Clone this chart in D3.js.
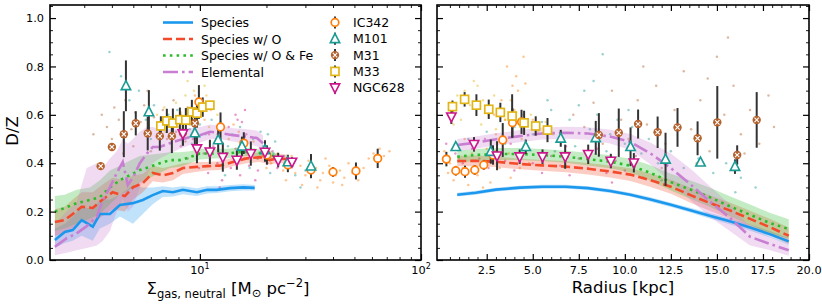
<!DOCTYPE html>
<html><head><meta charset="utf-8">
<script src="https://cdn.jsdelivr.net/npm/d3@7"></script>
<style>body{margin:0;background:#fff}svg{display:block}text{font-family:"DejaVu Sans",sans-serif;fill:#000}</style>
</head><body><svg id="c" width="822" height="308"></svg>
<script>
// ---------------- DATA ----------------
// Left panel: model lines vs Sigma_gas,neutral
const spX  = [2.21,2.45,2.66,2.92,3.28,3.53,3.92,4.35,4.98,5.52,6.12,6.80,7.55,8.38,9.69,10.8,11.9,13.7,15.7,17.7];
const spY  = [0.083,0.116,0.124,0.165,0.138,0.19,0.19,0.227,0.235,0.248,0.268,0.285,0.28,0.29,0.28,0.29,0.29,0.297,0.30,0.298];
const spLo = [0.05,0.07,0.08,0.10,0.08,0.13,0.15,0.18,0.15,0.19,0.23,0.26,0.262,0.272,0.265,0.275,0.277,0.284,0.287,0.287];
const spHi = [0.13,0.15,0.18,0.22,0.21,0.25,0.25,0.27,0.31,0.30,0.30,0.305,0.30,0.305,0.297,0.305,0.305,0.31,0.313,0.31];

const soX  = [2.21,2.45,2.66,2.92,3.28,3.61,4.03,4.58,4.98,5.52,6.12,6.80,7.55,8.38,9.69,10.8,12.3,14.1,16.3,18.7,20.7,22.3,24.8];
const soY  = [0.157,0.165,0.19,0.22,0.215,0.248,0.28,0.264,0.30,0.318,0.36,0.35,0.36,0.38,0.385,0.388,0.39,0.405,0.42,0.425,0.413,0.42,0.417];
const soLo = [0.10,0.11,0.13,0.16,0.15,0.18,0.21,0.20,0.25,0.28,0.325,0.32,0.33,0.355,0.365,0.37,0.372,0.387,0.40,0.405,0.395,0.40,0.40];
const soHi = [0.21,0.22,0.25,0.28,0.28,0.31,0.34,0.33,0.35,0.355,0.39,0.38,0.39,0.40,0.405,0.405,0.408,0.423,0.438,0.445,0.43,0.44,0.435];

const sfX  = [2.21,2.45,2.77,3.18,3.53,3.92,4.35,4.82,5.35,5.94,6.59,7.32,8.12,9.01,10.0,11.45,13.25,15.17,17.37,20.1,22.3];
const sfY  = [0.20,0.215,0.235,0.248,0.26,0.30,0.33,0.35,0.372,0.385,0.40,0.413,0.413,0.425,0.44,0.44,0.44,0.446,0.446,0.44,0.425];
const sfLo = [0.12,0.13,0.15,0.17,0.19,0.23,0.27,0.29,0.32,0.34,0.36,0.38,0.385,0.40,0.415,0.42,0.42,0.43,0.43,0.425,0.41];
const sfHi = [0.265,0.27,0.29,0.30,0.33,0.37,0.39,0.41,0.43,0.435,0.44,0.445,0.445,0.45,0.46,0.46,0.46,0.465,0.462,0.455,0.44];

const elX  = [2.21,2.5,2.77,3.08,3.42,3.64,3.92,4.21,4.48,4.72,4.98,5.35,5.76,6.12,6.59,7.32,8.12,9.01,10.0,11.1,12.3,14.1,16.3,18.1,19.3];
const elY  = [0.055,0.09,0.11,0.14,0.18,0.248,0.30,0.36,0.405,0.31,0.34,0.40,0.44,0.467,0.467,0.483,0.496,0.508,0.516,0.53,0.525,0.516,0.51,0.504,0.483];
const elLo = [0.02,0.03,0.04,0.05,0.06,0.08,0.12,0.20,0.25,0.20,0.22,0.30,0.35,0.40,0.42,0.44,0.46,0.475,0.485,0.50,0.50,0.49,0.48,0.47,0.45];
const elHi = [0.15,0.20,0.24,0.38,0.40,0.38,0.42,0.45,0.50,0.48,0.50,0.53,0.55,0.55,0.54,0.54,0.545,0.545,0.55,0.56,0.555,0.545,0.54,0.535,0.515];

// Right panel: model lines vs radius
const rBins = [0.9,1.9,3.0,4.3,5.5,6.8,8.0,9.2,10.3,11.4,12.5,13.6,14.6,15.7,16.8,17.9,18.9];
const rSp   = [0.27,0.278,0.291,0.299,0.303,0.303,0.297,0.285,0.27,0.25,0.228,0.205,0.183,0.16,0.134,0.106,0.077];
const rSpLo = [0.262,0.270,0.283,0.291,0.295,0.295,0.289,0.277,0.262,0.241,0.219,0.195,0.172,0.148,0.121,0.093,0.063];
const rSpHi = [0.278,0.286,0.299,0.307,0.311,0.311,0.305,0.293,0.278,0.259,0.237,0.215,0.194,0.172,0.147,0.119,0.091];
const rSo   = [0.409,0.41,0.406,0.397,0.391,0.386,0.377,0.366,0.353,0.33,0.303,0.267,0.236,0.205,0.17,0.135,0.10];
const rSoLo = [0.387,0.388,0.384,0.375,0.369,0.363,0.353,0.341,0.327,0.302,0.274,0.236,0.204,0.172,0.136,0.101,0.066];
const rSoHi = [0.431,0.432,0.428,0.419,0.413,0.409,0.401,0.391,0.379,0.358,0.332,0.298,0.268,0.238,0.204,0.169,0.134];
const rSf   = [0.427,0.434,0.438,0.438,0.434,0.427,0.417,0.406,0.39,0.36,0.322,0.29,0.26,0.222,0.187,0.152,0.128];
const rSfLo = [0.402,0.409,0.413,0.413,0.409,0.402,0.391,0.379,0.362,0.328,0.287,0.252,0.22,0.181,0.145,0.11,0.088];
const rSfHi = [0.452,0.459,0.463,0.463,0.459,0.452,0.443,0.433,0.418,0.392,0.357,0.328,0.30,0.263,0.229,0.194,0.168];
const rEl   = [0.475,0.485,0.499,0.512,0.523,0.526,0.523,0.51,0.488,0.44,0.38,0.31,0.243,0.175,0.096,0.066,0.04];
const rElLo = [0.45,0.46,0.474,0.487,0.498,0.501,0.497,0.482,0.455,0.395,0.32,0.245,0.18,0.12,0.06,0.04,0.018];
const rElHi = [0.50,0.51,0.524,0.537,0.548,0.551,0.549,0.538,0.521,0.485,0.44,0.375,0.306,0.23,0.135,0.095,0.065];

// Galaxy binned points: left panel (Sigma) [x, y, err]
const ic342L = [[9.9,0.653,0.07],[12.4,0.55,0.06],[15.8,0.483,0.045],[20.1,0.434,0.04],[25.0,0.393,0.03],[31.8,0.372,0.03],[40.0,0.364,0.02],[50.8,0.368,0.035],[63.7,0.42,0.04]];
const m101L  = [[4.63,0.72,0.105],[5.88,0.612,0.09],[9.49,0.525,0.05],[12.1,0.496,0.05],[15.5,0.47,0.04],[19.7,0.455,0.04],[25.0,0.405,0.03],[31.8,0.388,0.05]];
const m31L   = [[3.56,0.388,0],[4.0,0.467,0.01],[4.53,0.52,0.095],[5.13,0.565,0.05],[5.81,0.523,0.07],[6.59,0.512,0.06],[7.47,0.512,0.07],[8.38,0.525,0.05],[9.49,0.565,0.06]];
const m33L   = [[6.66,0.554,0.04],[7.09,0.575,0.05],[7.55,0.566,0.06],[8.12,0.58,0.05],[8.64,0.578,0.05],[9.2,0.612,0.05],[9.7,0.607,0.06],[10.3,0.632,0.04],[11.1,0.64,0]];
const n628L  = [[8.38,0.522,0.05],[9.7,0.46,0.06],[11.1,0.447,0.05],[12.7,0.425,0.06],[14.7,0.413,0.04],[17.0,0.44,0.05],[19.7,0.446,0.04],[22.6,0.413,0.03],[26.1,0.405,0.02]];
// right panel (radius) [x, y, err]
const ic342R = [[0.31,0.417,0.03],[0.82,0.369,0.02],[1.32,0.365,0.025],[1.85,0.372,0.02],[2.34,0.393,0.02],[2.84,0.434,0.04],[3.37,0.496,0.07],[3.90,0.567,0.06],[4.39,0.571,0.05]];
const m101R  = [[0.82,0.468,0.01],[2.72,0.448,0.05],[4.62,0.468,0.03],[6.52,0.503,0.035],[8.42,0.505,0.07],[10.31,0.468,0.08],[12.21,0.416,0.11],[14.11,0.404,0.015],[15.98,0.386,0.03]];
const m31R   = [[8.59,0.517,0.09],[9.67,0.526,0.1],[10.72,0.562,0.06],[11.78,0.528,0.065],[12.86,0.548,0.08],[13.95,0.503,0.07],[15.02,0.569,0.15],[16.1,0.434,0.04],[17.16,0.579,0.115]];
const m33R   = [[0.64,0.634,0.025],[1.3,0.664,0.03],[1.94,0.64,0.045],[2.61,0.623,0.04],[3.24,0.61,0.04],[3.88,0.595,0.09],[4.53,0.567,0.05],[5.16,0.554,0.04],[5.8,0.537,0.05]];
const n628R  = [[0.58,0.592,0.03],[1.81,0.478,0.03],[3.06,0.431,0.06],[4.29,0.427,0.03],[5.53,0.427,0.03],[6.76,0.427,0.05],[8.01,0.437,0.04],[9.24,0.409,0.03],[10.49,0.402,0.04]];

// Individual pixels (faint scatter): left panel
const ic342PixL = [[9.5,0.68],[10.5,0.58],[11.2,0.62],[12.0,0.52],[13.5,0.50],[14.2,0.56],[15.0,0.53],[16.0,0.46],[17.5,0.49],[18.3,0.42],[19.5,0.45],[20.0,0.38],[21.0,0.40],[22.5,0.44],[23.8,0.37],[25.5,0.41],[26.0,0.43],[27.0,0.36],[28.5,0.39],[29.0,0.31],[30.0,0.35],[31.0,0.41],[33.5,0.38],[34.0,0.30],[35.0,0.33],[36.0,0.36],[38.5,0.39],[40.0,0.32],[41.0,0.35],[43.0,0.37],[45.0,0.34],[47.0,0.40],[49.0,0.36],[52.0,0.33],[55.0,0.38],[58.0,0.42],[61.0,0.44],[65.0,0.46],[68.0,0.43],[72.0,0.45],[37.0,0.42],[44.0,0.31],[24.5,0.33]];
const m101PixL = [[3.9,0.86],[4.4,0.76],[4.8,0.66],[5.3,0.70],[5.7,0.58],[6.2,0.64],[6.8,0.55],[7.2,0.60],[7.9,0.62],[8.4,0.57],[9.0,0.54],[9.4,0.60],[10.0,0.56],[10.6,0.52],[11.3,0.58],[12.0,0.50],[12.7,0.54],[13.4,0.47],[14.0,0.52],[14.8,0.44],[15.6,0.49],[16.5,0.45],[17.4,0.50],[18.2,0.42],[19.3,0.47],[20.3,0.52],[21.5,0.44],[22.7,0.40],[24.0,0.43],[25.5,0.38],[27.0,0.35],[28.5,0.30],[30.0,0.37],[20.8,0.36],[16.8,0.38],[13.0,0.35],[11.0,0.43],[9.2,0.48],[7.5,0.51],[6.0,0.50],[18.8,0.53],[21.9,0.49],[15.2,0.55],[12.4,0.57]];
const m31PixL = [[3.3,0.52],[3.6,0.60],[3.8,0.55],[4.0,0.50],[4.1,0.63],[4.3,0.58],[4.5,0.44],[4.6,0.66],[4.9,0.54],[5.0,0.47],[5.1,0.61],[5.4,0.57],[5.6,0.64],[5.8,0.70],[5.9,0.53],[6.0,0.45],[6.2,0.59],[6.5,0.55],[6.8,0.62],[7.1,0.50],[7.4,0.57],[7.6,0.66],[7.8,0.53],[8.2,0.60],[8.6,0.49],[8.8,0.63],[9.0,0.56],[9.5,0.52]];
const m33PixL = [[6.4,0.60],[6.5,0.51],[6.9,0.63],[7.0,0.53],[7.3,0.58],[7.8,0.65],[8.0,0.55],[8.2,0.61],[8.6,0.68],[8.8,0.74],[9.0,0.63],[9.4,0.70],[9.6,0.57],[9.8,0.66],[10.2,0.61],[10.5,0.72],[10.7,0.68],[11.0,0.55],[11.3,0.64],[12.0,0.60]];
const n628PixL = [[8.2,0.47],[8.8,0.42],[9.3,0.50],[9.9,0.38],[10.4,0.44],[10.9,0.36],[11.0,0.52],[11.5,0.47],[12.0,0.40],[12.3,0.30],[12.6,0.33],[13.2,0.44],[13.5,0.55],[13.8,0.38],[14.5,0.46],[14.5,0.60],[14.8,0.58],[15.2,0.35],[15.5,0.57],[15.9,0.42],[16.0,0.62],[16.2,0.52],[16.7,0.39],[17.5,0.45],[17.8,0.33],[18.3,0.37],[19.2,0.43],[20.2,0.40],[21.3,0.45],[22.4,0.38],[23.6,0.42],[25.0,0.39],[26.5,0.41]];
// right panel
const ic342PixR = [[0.2,0.45],[0.4,0.36],[0.5,0.40],[0.7,0.33],[1.0,0.42],[1.2,0.38],[1.3,0.50],[1.5,0.31],[1.7,0.44],[2.0,0.35],[2.2,0.40],[2.3,0.30],[2.5,0.46],[2.7,0.32],[2.9,0.60],[3.0,0.52],[3.2,0.38],[3.3,0.66],[3.5,0.58],[3.6,0.80],[3.7,0.44],[3.8,0.34],[3.9,0.72],[4.0,0.62],[4.1,0.76],[4.2,0.70],[4.3,0.38],[4.4,0.50],[4.5,0.84],[4.6,0.73],[4.8,0.40],[5.0,0.58]];
const m101PixR = [[1.5,0.50],[2.5,0.53],[3.5,0.48],[4.0,0.55],[4.5,0.60],[5.0,0.52],[5.5,0.57],[5.8,0.66],[6.0,0.62],[6.2,0.45],[6.5,0.50],[7.0,0.58],[7.3,0.47],[7.5,0.64],[7.8,0.70],[8.1,0.54],[8.3,0.74],[8.5,0.60],[8.8,0.85],[9.0,0.45],[9.2,0.52],[9.6,0.58],[10.0,0.48],[10.2,0.62],[10.4,0.55],[10.9,0.44],[11.3,0.50],[11.8,0.40],[12.0,0.33],[12.5,0.45],[13.2,0.38],[14.0,0.42],[14.8,0.36],[15.5,0.40],[16.0,0.28],[16.3,0.34],[17.1,0.30]];
const m31PixR = [[7.2,0.60],[7.8,0.55],[8.3,0.65],[8.8,0.48],[9.0,0.42],[9.3,0.70],[9.8,0.58],[10.2,0.50],[10.7,0.66],[11.0,0.80],[11.2,0.56],[11.7,0.72],[12.0,0.38],[12.2,0.48],[12.7,0.62],[13.2,0.78],[13.6,0.54],[13.9,0.40],[14.1,0.66],[14.5,0.75],[14.6,0.45],[15.0,0.84],[15.4,0.60],[15.6,0.92],[15.9,0.72],[16.3,0.52],[16.5,0.44],[16.8,0.62],[17.3,0.48],[17.8,0.68],[18.1,0.55]];
const m33PixR = [[0.5,0.62],[0.7,0.56],[0.9,0.68],[1.1,0.58],[1.3,0.70],[1.6,0.64],[1.8,0.74],[2.0,0.72],[2.2,0.56],[2.3,0.66],[2.6,0.60],[2.9,0.68],[3.0,0.54],[3.2,0.63],[3.5,0.58],[3.8,0.66],[4.1,0.61],[4.5,0.56],[4.9,0.60],[5.3,0.53],[5.7,0.57],[6.1,0.52]];
const n628PixR = [[0.3,0.48],[0.8,0.44],[1.2,0.40],[1.7,0.46],[2.1,0.42],[2.4,0.50],[2.6,0.38],[3.0,0.45],[3.5,0.41],[3.8,0.48],[4.0,0.37],[4.5,0.44],[5.0,0.40],[5.5,0.36],[6.0,0.43],[6.5,0.39],[6.8,0.47],[7.0,0.35],[7.5,0.42],[8.0,0.38],[8.5,0.46],[9.0,0.36],[9.3,0.32],[9.5,0.41],[10.0,0.37],[10.6,0.43],[11.0,0.34]];

// Tick labels
const yTickVals = [0.0,0.2,0.4,0.6,0.8,1.0];
const xTickValsL = [10,100];
const xTickLabelsL = ["1","2"];   // exponents of 10
const xTickValsR = [2.5,5.0,7.5,10.0,12.5,15.0,17.5,20.0];
const lineNames = ["Species","Species w/ O","Species w/ O & Fe","Elemental"];
const galNames = ["IC342","M101","M31","M33","NGC628"];

// ---------------- STYLE ----------------
const lineCol = ["#1b98ee","#f44a2c","#2bbb2b","#c87fd2"];
const lineDash = [null,"9,4","2.6,4.2","15,4,2.6,4"];
const galCol = {IC342:"#ff7f0e",M101:"#1a9b94",M31:"#b4622e",M33:"#e2b517",NGC628:"#cb168c"};
const galShape = {IC342:"circle",M101:"tri_up",M31:"xcirc",M33:"square",NGC628:"tri_down"};

const svg = d3.select("#c");
const y = d3.scaleLinear().domain([0,1.054]).range([260,5]);
const xL = d3.scaleLog().domain([2.1,100]).range([50,421]);
const xR = d3.scaleLinear().domain([-0.2,20]).range([437,809]);

const defs = svg.append("defs");
function clip(id,x0,x1){defs.append("clipPath").attr("id",id).append("rect").attr("x",x0).attr("y",5).attr("width",x1-x0).attr("height",255);}
clip("cl",50,421); clip("cr",437,809);

function zip(X,Y){return X.map((v,i)=>[v,Y[i]]);}
function zip3(X,L,H){return X.map((v,i)=>[v,L[i],H[i]]);}

function marker(g,type,color,cx,cy){
  const m = g.append("g").attr("transform",`translate(${cx},${cy})`);
  if(type==="circle") m.append("circle").attr("r",3.8).attr("fill","white").attr("stroke",color).attr("stroke-width",1.7);
  else if(type==="tri_up") m.append("path").attr("d","M0,-5.2L4.7,3.8L-4.7,3.8Z").attr("fill","white").attr("stroke",color).attr("stroke-width",1.6);
  else if(type==="tri_down") m.append("path").attr("d","M0,5.2L4.7,-3.8L-4.7,-3.8Z").attr("fill","white").attr("stroke",color).attr("stroke-width",1.6);
  else if(type==="square") m.append("rect").attr("x",-4).attr("y",-4).attr("width",8).attr("height",8).attr("fill","white").attr("stroke",color).attr("stroke-width",1.7);
  else if(type==="xcirc"){
    m.append("circle").attr("r",4.2).attr("fill",color);
    m.append("path").attr("d","M-2.2,-2.2L2.2,2.2M-2.2,2.2L2.2,-2.2").attr("stroke","white").attr("stroke-width",1.1);
  }
}

function panel(x, clipId, bandSets, lineSets, pixSets, ptSets){
  const g = svg.append("g").attr("clip-path",`url(#${clipId})`);
  pixSets.forEach(([name,pts])=>{
    g.append("g").selectAll("circle").data(pts).join("circle")
     .attr("cx",d=>x(d[0])).attr("cy",d=>y(d[1])).attr("r",1.25)
     .attr("fill",galCol[name]).attr("opacity",0.45);
  });
  bandSets.forEach((b,i)=>{
    g.append("path").datum(b).attr("fill",lineCol[i]).attr("opacity",0.28)
     .attr("d",d3.area().x(d=>x(d[0])).y0(d=>y(d[1])).y1(d=>y(d[2])));
  });
  lineSets.forEach((l,i)=>{
    g.append("path").datum(l).attr("fill","none").attr("stroke",lineCol[i]).attr("stroke-width",2.6)
     .attr("stroke-dasharray",lineDash[i]).attr("d",d3.line().x(d=>x(d[0])).y(d=>y(d[1])));
  });
  ptSets.forEach(([name,pts])=>{
    g.append("g").selectAll("line").data(pts.filter(d=>d[2]>0)).join("line")
     .attr("x1",d=>x(d[0])).attr("x2",d=>x(d[0])).attr("y1",d=>y(d[1]-d[2])).attr("y2",d=>y(d[1]+d[2]))
     .attr("stroke","#333").attr("stroke-width",2);
  });
  ptSets.forEach(([name,pts])=>{
    pts.forEach(d=>marker(g,galShape[name],galCol[name],x(d[0]),y(d[1])));
  });
}

panel(xL,"cl",
  [zip3(spX,spLo,spHi),zip3(soX,soLo,soHi),zip3(sfX,sfLo,sfHi),zip3(elX,elLo,elHi)],
  [zip(spX,spY),zip(soX,soY),zip(sfX,sfY),zip(elX,elY)],
  [["IC342",ic342PixL],["M101",m101PixL],["M31",m31PixL],["M33",m33PixL],["NGC628",n628PixL]],
  [["IC342",ic342L],["M101",m101L],["M31",m31L],["M33",m33L],["NGC628",n628L]]);
panel(xR,"cr",
  [zip3(rBins,rSpLo,rSpHi),zip3(rBins,rSoLo,rSoHi),zip3(rBins,rSfLo,rSfHi),zip3(rBins,rElLo,rElHi)],
  [zip(rBins,rSp),zip(rBins,rSo),zip(rBins,rSf),zip(rBins,rEl)],
  [["IC342",ic342PixR],["M101",m101PixR],["M31",m31PixR],["M33",m33PixR],["NGC628",n628PixR]],
  [["IC342",ic342R],["M101",m101R],["M31",m31R],["M33",m33R],["NGC628",n628R]]);

// ---------------- AXES ----------------
const yMinor = d3.range(0,1.051,0.05).filter(v=>Math.abs(v*5-Math.round(v*5))>1e-6);
function frame(x, x0, x1, xMaj, xMin){
  const g = svg.append("g");
  const add=(axis,tx,ty)=>{const a=g.append("g").attr("transform",`translate(${tx},${ty})`).call(axis);a.select(".domain").remove();a.selectAll("line").attr("stroke","#000");return a;};
  [[xMaj,6,1.2],[xMin,3,0.9]].forEach(([vals,len,w])=>{
    add(d3.axisBottom(x).tickValues(vals).tickSize(-len).tickFormat(""),0,260).selectAll("line").attr("stroke-width",w);
    add(d3.axisTop(x).tickValues(vals).tickSize(-len).tickFormat(""),0,5).selectAll("line").attr("stroke-width",w);
  });
  [[yTickVals,6,1.2],[yMinor,3,0.9]].forEach(([vals,len,w])=>{
    add(d3.axisLeft(y).tickValues(vals).tickSize(-len).tickFormat(""),x0,0).selectAll("line").attr("stroke-width",w);
    add(d3.axisRight(y).tickValues(vals).tickSize(-len).tickFormat(""),x1,0).selectAll("line").attr("stroke-width",w);
  });
  g.append("rect").attr("x",x0).attr("y",5).attr("width",x1-x0).attr("height",255)
   .attr("fill","none").attr("stroke","#000").attr("stroke-width",1.6);
  return g;
}
const xMinL = [3,4,5,6,7,8,9,20,30,40,50,60,70,80,90];
const xMinR = d3.range(0,20.01,0.5).filter(v=>Math.abs(v/2.5-Math.round(v/2.5))>1e-6);
frame(xL,50,421,xTickValsL,xMinL);
frame(xR,437,809,xTickValsR,xMinR);

// tick labels
svg.append("g").selectAll("text").data(yTickVals).join("text")
  .attr("x",44).attr("y",d=>y(d)).attr("dy","0.36em").attr("text-anchor","end").attr("font-size",11.3)
  .text(d=>d.toFixed(1));
xTickValsL.forEach((v,i)=>{
  const t = svg.append("text").attr("x",xL(v)).attr("y",274).attr("text-anchor","middle").attr("font-size",11.3);
  t.append("tspan").text("10");
  t.append("tspan").attr("font-size",8).attr("dy",-5).text(xTickLabelsL[i]);
});
svg.append("g").selectAll("text").data(xTickValsR).join("text")
  .attr("x",d=>xR(d)).attr("y",274).attr("text-anchor","middle").attr("font-size",11.3)
  .text(d=>d.toFixed(1));

// axis labels
svg.append("text").attr("transform","translate(18,131) rotate(-90)").attr("text-anchor","middle").attr("font-size",16.5).text("D/Z");
const xl = svg.append("text").attr("x",228).attr("y",294).attr("text-anchor","middle").attr("font-size",16.5);
xl.append("tspan").text("Σ");
xl.append("tspan").attr("font-size",11.5).attr("dy",4).text("gas, neutral");
xl.append("tspan").attr("dy",-4).text(" [M");
xl.append("tspan").attr("font-size",11.5).attr("dy",3).text("⊙");
xl.append("tspan").attr("dy",-3).text(" pc");
xl.append("tspan").attr("font-size",11.5).attr("dy",-7).text("−2");
xl.append("tspan").attr("dy",7).text("]");
svg.append("text").attr("x",623).attr("y",293).attr("text-anchor","middle").attr("font-size",16.5).text("Radius [kpc]");

// ---------------- LEGENDS ----------------
const lg = svg.append("g");
lineNames.forEach((n,i)=>{
  const yy = 22.5 + i*16.5;
  lg.append("line").attr("x1",163).attr("x2",193).attr("y1",yy).attr("y2",yy)
    .attr("stroke",lineCol[i]).attr("stroke-width",2.6).attr("stroke-dasharray",lineDash[i]);
  lg.append("text").attr("x",201).attr("y",yy).attr("dy","0.36em").attr("font-size",12.5).text(n);
});
galNames.forEach((n,i)=>{
  const yy = 22.5 + i*16.3;
  lg.append("line").attr("x1",335).attr("x2",335).attr("y1",yy-6).attr("y2",yy+6).attr("stroke","#333").attr("stroke-width",2);
  marker(lg,galShape[n],galCol[n],335,yy);
  lg.append("text").attr("x",353).attr("y",yy).attr("dy","0.36em").attr("font-size",12.5).text(n);
});
</script></body></html>
